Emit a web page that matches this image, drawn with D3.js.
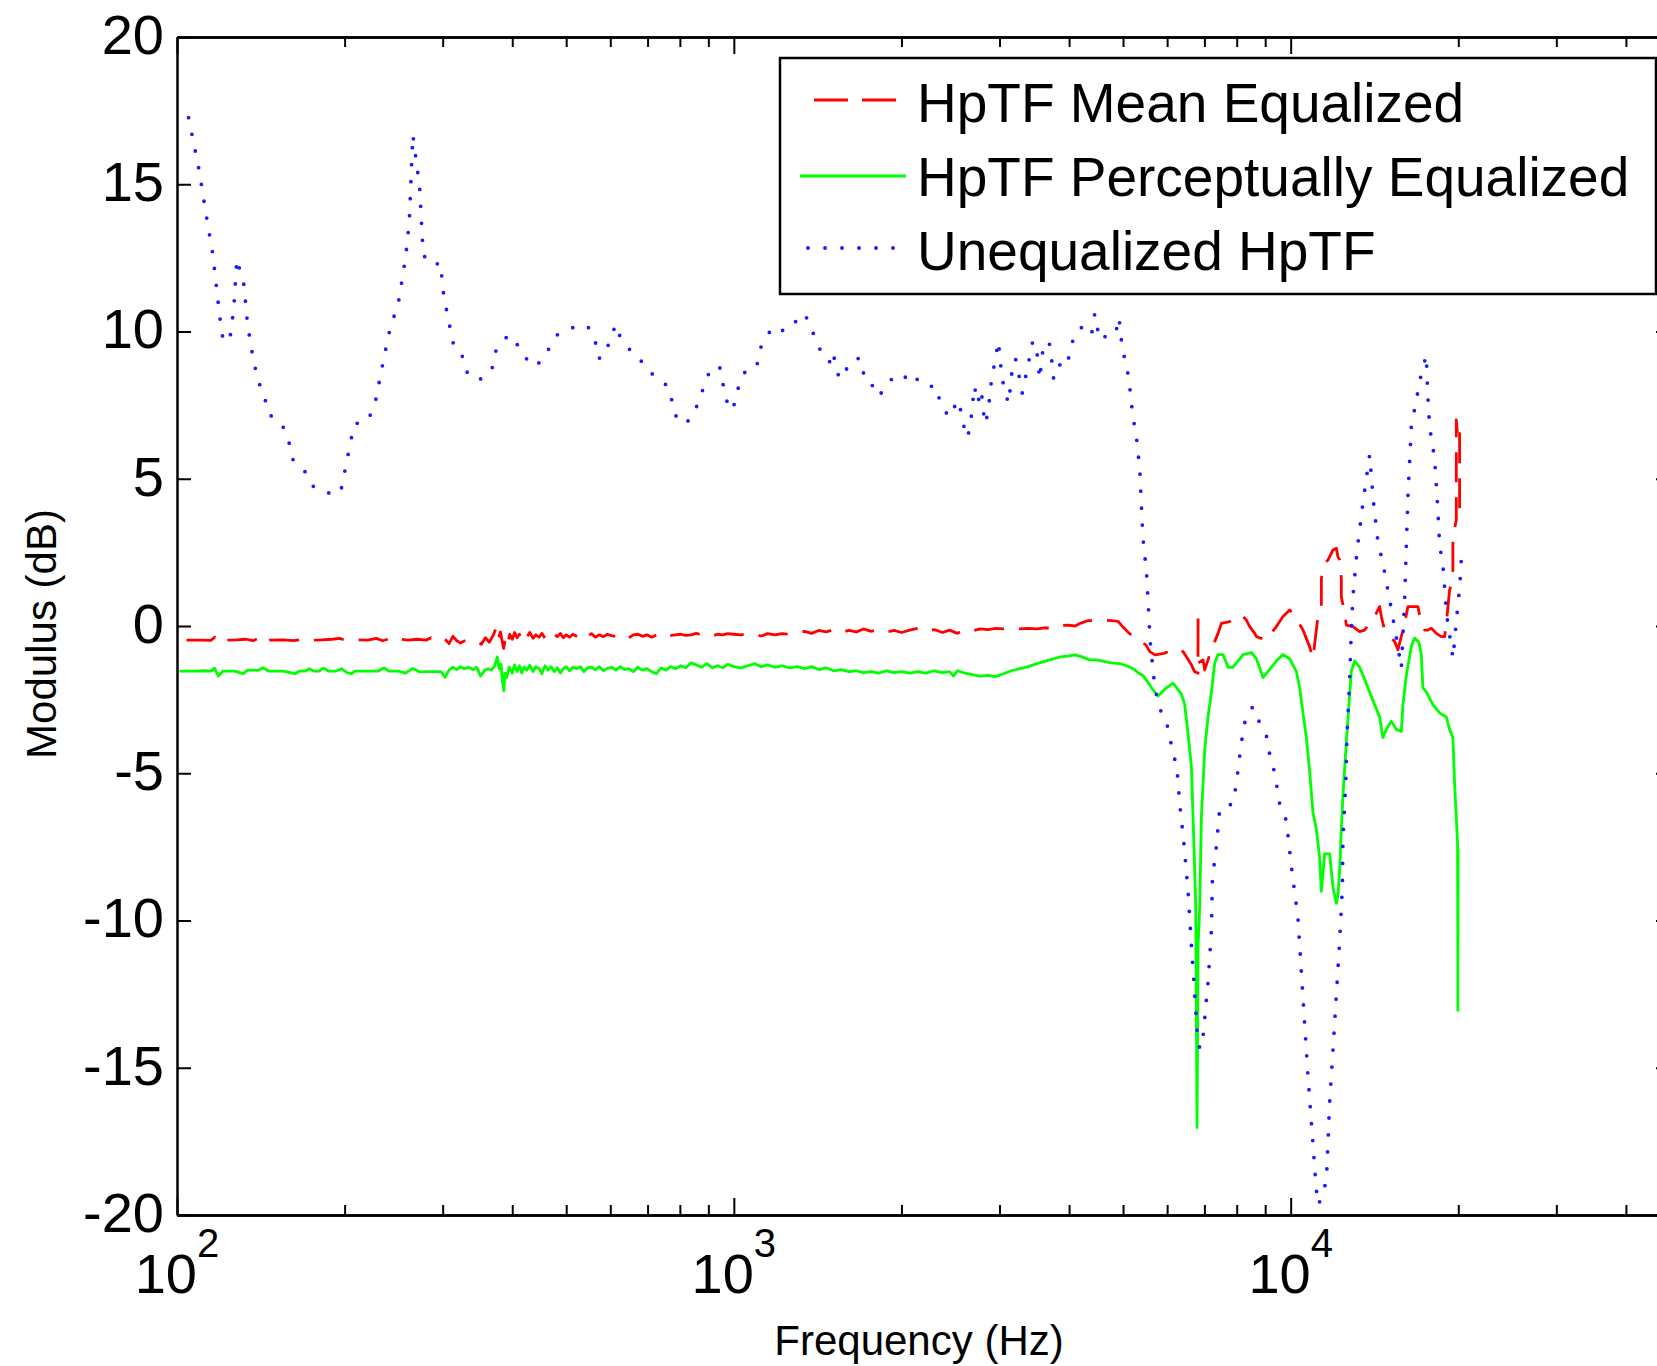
<!DOCTYPE html>
<html><head><meta charset="utf-8">
<script src="https://cdn.jsdelivr.net/npm/d3@7"></script>
<style>
html,body{margin:0;padding:0;background:#fff;}
svg{display:block;}
text{font-family:"Liberation Sans", Arial, Helvetica, sans-serif; fill:#000;}
</style></head><body>
<svg id="chart" width="1657" height="1366"></svg>
<script>
// ---------------- DATA ----------------
const seriesNames = ["HpTF Mean Equalized", "HpTF Perceptually Equalized", "Unequalized HpTF"];
const xDomain = [100, 48000];
const yDomain = [-20, 20];
const yTicks = [-20, -15, -10, -5, 0, 5, 10, 15, 20];
const xMajorTicks = [100, 1000, 10000];
const xMajorExp = ["2", "3", "4"];
const xMinorTicks = [200,300,400,500,600,700,800,900,2000,3000,4000,5000,6000,7000,8000,9000,20000,30000,40000];
const xLabel = "Frequency (Hz)";
const yLabel = "Modulus (dB)";

// HpTF Mean Equalized (red, dashed)
const meanFreq = [
104,110,115,117,119,122,128,133,137,140,
143,147,155,162,168,175,182,190,196,200,
210,220,228,234,240,246,252,260,270,280,
286,292,298,303,308,313,318,323,330,345,
352,358,364,370,375,378,381,384,386,389,
392,396,400,404,408,412,416,420,425,430,
436,441,447,452,458,464,470,476,482,488,
494,500,507,514,522,530,538,546,555,564,
573,583,593,603,614,625,636,648,660,672,
685,698,712,726,740,755,770,786,803,820,
838,856,875,895,915,935,955,975,1000,1030,
1060,1090,1120,1150,1185,1220,1260,1300,1340,1380,
1420,1465,1510,1560,1610,1660,1710,1765,1820,1880,
1940,2000,2070,2140,2210,2290,2370,2440,2520,2600,
2680,2770,2860,2950,3050,3150,3260,3380,3500,3620,
3740,3860,3980,4100,4200,4320,4450,4600,4760,4900,
4990,5130,5342,5501,5583,5709,5923,6192,6407,6634,
6720,6818,6818,6818,6960,7009,7105,7206,7305,7405,
7510,7772,7990,8157,8327,8442,8618,8679,9045,9170,
9426,9687,9959,10095,10306,10522,10815,10965,11194,11353,
11353,11509,11667,11910,12079,12159,12245,12331,12331,12501,
12589,12937,13301,13579,13861,14151,14447,14549,14749,15057,
15371,15582,16020,16240,16925,17164,17400,17639,17888,18262,
18643,18899,19032,19294,19430,19559,19559,19836,19836,19968,
20109,20109];
const meanDB = [
-0.48,-0.48,-0.49,-0.38,-0.56,-0.48,-0.47,-0.45,-0.50,-0.42,
-0.58,-0.48,-0.47,-0.50,-0.45,-0.48,-0.47,-0.45,-0.42,-0.48,
-0.47,-0.48,-0.42,-0.50,-0.44,-0.52,-0.45,-0.48,-0.45,-0.48,
-0.40,-0.48,-0.52,-0.45,-0.60,-0.35,-0.50,-0.58,-0.48,-0.50,
-0.62,-0.40,-0.55,-0.30,-0.02,-0.40,-0.20,-0.55,-0.76,-0.40,
-0.62,-0.28,-0.45,-0.22,-0.40,-0.28,-0.48,-0.30,-0.38,-0.22,
-0.42,-0.30,-0.38,-0.25,-0.42,-0.30,-0.40,-0.28,-0.36,-0.25,
-0.40,-0.30,-0.38,-0.28,-0.35,-0.42,-0.28,-0.34,-0.26,-0.38,
-0.30,-0.36,-0.28,-0.33,-0.36,-0.28,-0.32,-0.40,-0.30,-0.28,
-0.35,-0.30,-0.38,-0.30,-0.34,-0.26,-0.32,-0.30,-0.28,-0.32,
-0.30,-0.25,-0.30,-0.28,-0.34,-0.28,-0.30,-0.26,-0.28,-0.30,
-0.25,-0.28,-0.34,-0.26,-0.30,-0.26,-0.28,-0.22,-0.18,-0.25,
-0.15,-0.20,-0.12,-0.22,-0.15,-0.20,-0.10,-0.18,-0.12,-0.20,
-0.15,-0.22,-0.14,-0.08,-0.18,-0.12,-0.22,-0.14,-0.25,-0.12,
-0.16,-0.10,-0.12,-0.08,-0.10,-0.07,-0.10,-0.08,-0.10,-0.06,
-0.08,0.02,0.03,0.00,0.10,0.18,0.18,0.20,0.18,0.16,
-0.02,-0.25,-0.48,-0.65,-0.87,-0.98,-0.93,-0.76,-0.87,-1.32,
-1.55,-1.60,0.37,-1.26,-1.15,-1.49,-1.15,-0.81,-0.53,-0.25,
0.09,0.15,0.32,0.37,0.20,-0.02,-0.25,-0.36,-0.48,-0.31,
-0.02,0.32,0.54,0.43,0.15,-0.14,-0.70,-1.10,0.32,0.66,
1.62,2.13,2.24,2.58,2.64,2.35,2.24,1.62,0.99,0.43,
0.03,-0.02,-0.19,-0.14,0.09,0.32,0.66,0.32,-0.14,-0.36,
-0.53,-0.81,0.09,0.66,0.66,0.09,-0.14,-0.14,-0.08,-0.25,
-0.36,-0.36,0.09,1.22,1.45,1.90,3.03,3.60,7.00,6.30,
6.54,3.71];

// HpTF Perceptually Equalized (green, solid)
const percFreq = [
101,108,112,115,116.8,118.6,121,127,131.5,134,
140,142.6,146,155,162.9,166,170,172.8,176,180,
183.3,187,193,197.4,202,205.5,209,220,230,235.6,
240,250,257.4,265,273,282,290,298,302.8,308,
313,318,323,328,334,340,345,351,357,362,
367,372,376,379,382,384,386.3,388,391,395,
400,404,408,412,416,420,425,430,436,441,
447,452,458,464,470,476,482,488,494,500,
507,514,522,530,538,546,555,564,573,583,
593,603,614,625,636,648,660,672,685,698,
712,726,740,755,770,786,803,820,838,856,
875,895,915,935,955,975,1000,1030,1060,1090,
1120,1150,1185,1220,1260,1300,1340,1380,1420,1465,
1510,1560,1610,1660,1710,1765,1820,1880,1940,2000,
2070,2140,2210,2290,2370,2440,2480,2520,2600,2680,
2770,2860,2950,3050,3150,3260,3380,3500,3620,3740,
3860,3980,4100,4220,4350,4480,4620,4760,4930,5080,
5211,5342,5431,5583,5660,5778,5983,6148,6365,6452,
6541,6634,6678,6753,6790,6818,6852,6866,6914,7009,
7105,7206,7305,7405,7560,7718,7879,8043,8211,8501,
8679,8919,9170,9426,9687,9959,10238,10379,10522,10671,
10815,10965,11120,11273,11353,11509,11749,11910,12079,12159,
12245,12331,12413,12589,12725,12852,13029,13301,13579,13861,
14151,14447,14645,14853,15163,15480,15803,15908,16133,16469,
16695,16995,17164,17278,17522,18007,18512,19032,19294,19559,
19697,19940,19968,19990,19968,19968];
const percDB = [
-1.53,-1.53,-1.52,-1.53,-1.43,-1.70,-1.53,-1.53,-1.62,-1.50,
-1.50,-1.42,-1.53,-1.53,-1.62,-1.53,-1.53,-1.45,-1.53,-1.53,
-1.43,-1.53,-1.53,-1.45,-1.58,-1.62,-1.53,-1.53,-1.53,-1.42,
-1.53,-1.53,-1.60,-1.44,-1.56,-1.55,-1.55,-1.55,-1.74,-1.50,
-1.40,-1.48,-1.38,-1.45,-1.40,-1.48,-1.40,-1.70,-1.50,-1.45,
-1.50,-1.35,-1.05,-1.45,-1.30,-1.85,-2.20,-1.60,-1.75,-1.40,
-1.60,-1.32,-1.55,-1.35,-1.60,-1.40,-1.50,-1.33,-1.55,-1.38,
-1.45,-1.62,-1.35,-1.50,-1.38,-1.55,-1.42,-1.60,-1.45,-1.38,
-1.52,-1.40,-1.45,-1.38,-1.55,-1.42,-1.40,-1.48,-1.38,-1.52,
-1.44,-1.40,-1.50,-1.38,-1.48,-1.45,-1.55,-1.40,-1.50,-1.45,
-1.55,-1.62,-1.42,-1.50,-1.38,-1.45,-1.35,-1.42,-1.25,-1.32,
-1.40,-1.28,-1.42,-1.35,-1.42,-1.30,-1.38,-1.42,-1.35,-1.28,
-1.38,-1.32,-1.40,-1.35,-1.42,-1.38,-1.45,-1.38,-1.48,-1.42,
-1.52,-1.48,-1.55,-1.52,-1.58,-1.55,-1.60,-1.52,-1.58,-1.55,
-1.60,-1.55,-1.60,-1.52,-1.58,-1.55,-1.70,-1.52,-1.60,-1.65,
-1.70,-1.68,-1.72,-1.62,-1.52,-1.45,-1.38,-1.28,-1.20,-1.12,
-1.05,-1.02,-0.98,-1.05,-1.15,-1.15,-1.20,-1.25,-1.28,-1.35,
-1.45,-1.61,-1.68,-2.00,-2.17,-2.38,-2.10,-1.94,-2.31,-2.67,
-3.65,-4.78,-6.47,-9.43,-17.03,-10.83,-9.98,-9.43,-6.47,-4.21,
-3.09,-2.24,-1.26,-0.97,-0.97,-1.40,-1.40,-1.19,-0.97,-0.90,
-1.11,-1.75,-1.47,-1.19,-0.97,-1.11,-1.54,-2.10,-2.95,-3.79,
-4.92,-6.33,-6.89,-7.88,-9.01,-7.74,-7.74,-8.86,-9.42,-9.15,
-8.30,-6.89,-5.77,-3.93,-2.67,-1.54,-1.19,-1.40,-1.82,-2.24,
-2.67,-3.09,-3.79,-3.51,-3.23,-3.51,-3.58,-2.67,-1.68,-0.69,
-0.41,-0.55,-0.97,-2.10,-2.24,-2.67,-2.95,-3.09,-3.51,-3.79,
-5.34,-7.39,-11.68,-7.60,-11.50,-13.09];

// Unequalized HpTF (blue, dotted)
const uneqFreq = [
104.9,109.5,112.6,116.0,119.3,121.1,124.5,126.4,128.1,131.9,
133.6,135.6,139.5,143.6,145.8,154.3,158.8,161.0,170.2,175.4,
185.4,196.6,199.4,205.1,208.2,220.2,226.8,233.2,239.9,250.3,
257.4,261.3,265.2,268.8,272.7,276.8,288.9,297.1,301.5,310.1,
314.7,328.4,332.9,352.6,367.9,373.0,384.1,395.0,406.1,418.4,
430.3,449.2,461.9,482.2,495.9,532.1,548.2,563.8,571.3,588.3,
597.2,614.2,622.4,640.9,669.1,688.1,718.1,760.9,771.1,782.3,
804.6,828.9,852.6,865.0,889.7,903.0,942.2,955.2,969.1,996.7,
1010,1039,1054,1100,1115,1149,1166,1233,1270,1306,
1343,1363,1402,1442,1485,1507,1527,1550,1594,1642,
1688,1714,1763,1813,1839,1867,1920,1977,2007,2095,
2154,2215,2313,2347,2413,2449,2519,2556,2591,2630,
2665,2704,2742,2781,2823,2860,2903,2942,2986,3028,
3071,3116,3162,3205,3253,3296,3394,3442,3491,3543,
3597,3648,3699,3753,3809,3917,3976,4088,4204,4324,
4389,4448,4540,4710,4845,4917,4991,5064,5131,5208,
5278,5357,5428,5510,5593,5676,5759,5892,5983,6065,
6251,6321,6426,6542,6634,6725,6790,6866,6951,7105,
7206,7236,7357,7458,7667,7879,7990,8100,8211,8327,
8558,8798,9045,9170,9361,9556,9824,10029,10306,10452,
10596,10741,10965,11120,11227,11367,11590,11749,11910,12079,
12245,12382,12413,12552,12620,12761,12851,12936,13152,13482,
13861,14092,14345,14645,15100,15582,15803,16020,16240,16469,
16813,17164,17522,17617,17763,18134,18383,18512,18770,19043,
19569,19845,20117,20259];
const uneqDB = [
17.26,15.51,14.06,12.60,10.53,9.65,9.78,10.73,12.46,11.58,
10.42,9.54,8.38,7.79,7.21,6.86,6.27,5.68,5.22,4.75,
4.52,4.52,5.10,6.27,6.86,6.97,7.56,8.73,9.89,11.07,
12.53,13.72,16.68,15.82,14.92,12.59,12.23,12.35,11.18,10.02,
9.43,9.08,8.49,8.38,8.73,9.31,9.67,9.89,9.61,9.31,
8.84,8.95,9.31,9.89,10.02,10.24,10.13,9.67,9.08,9.19,
9.67,10.24,9.89,9.54,9.08,8.95,8.49,8.15,7.79,7.21,
6.86,6.97,7.32,7.67,8.26,8.61,8.84,8.26,7.67,7.32,
7.91,8.49,8.73,8.84,9.43,9.78,10.13,10.02,10.13,10.48,
10.60,10.25,9.78,9.19,8.96,9.31,8.73,8.38,8.73,9.08,
9.08,8.49,8.14,8.26,7.91,8.02,8.38,8.26,8.38,8.61,
8.26,8.14,8.14,7.56,7.21,7.10,7.67,7.32,6.75,6.39,
6.97,8.14,7.57,8.02,6.86,7.21,8.38,8.96,9.67,8.49,
7.91,7.56,8.73,9.08,8.49,7.91,9.08,9.67,9.54,8.38,
9.54,9.67,9.54,8.38,8.73,9.08,8.96,9.90,10.13,10.13,
9.90,10.60,9.71,9.90,9.90,10.48,9.31,8.96,8.26,7.10,
6.51,5.34,3.00,1.82,-0.51,-1.72,-2.50,-3.08,-3.23,-3.79,
-4.86,-6.04,-7.31,-9.00,-10.83,-12.53,-13.72,-14.36,-14.06,-12.11,
-10.34,-8.58,-7.46,-6.19,-6.11,-6.04,-5.34,-4.41,-3.58,-3.02,
-2.74,-3.29,-3.72,-4.36,-4.99,-6.04,-6.61,-8.16,-9.92,-11.75,
-13.51,-15.27,-17.59,-19.15,-19.66,-19.32,-18.87,-16.19,-14.43,-12.53,
-10.70,-8.93,-7.16,-5.41,-3.72,-1.89,-0.13,1.00,2.52,4.17,
5.81,4.17,2.86,2.13,0.77,-0.70,-1.44,0.88,4.39,6.77,
7.67,8.58,9.20,7.96,6.77,5.69,3.94,2.75,2.07,0.43,
-1.10,0.20,1.33,2.30];

// ---------------- LAYOUT ----------------
const M = {left: 177, top: 37, right: 1670, bottom: 1215};
const svg = d3.select("#chart");
const x = d3.scaleLog().domain(xDomain).range([M.left, M.right]);
const y = d3.scaleLinear().domain(yDomain).range([M.bottom, M.top]);

const zip = (f, v) => f.map((d, i) => ({f: d, v: v[i]}));
const line = d3.line().x(d => x(d.f)).y(d => y(d.v));

const series = [
  {name: seriesNames[0], data: zip(meanFreq, meanDB), color: "#ff0000", width: 2.8, dash: "30,15", cap: "butt"},
  {name: seriesNames[1], data: zip(percFreq, percDB), color: "#00ff00", width: 2.8, dash: null, cap: "butt"},
  {name: seriesNames[2], data: zip(uneqFreq, uneqDB), color: "#1a1aff", width: 3.8, dash: "0,17", cap: "round"}
];

const gLines = svg.append("g");
series.forEach(s => {
  gLines.append("path")
    .attr("d", line(s.data))
    .attr("fill", "none")
    .attr("stroke", s.color)
    .attr("stroke-width", s.width)
    .attr("stroke-linejoin", "round")
    .attr("stroke-linecap", s.cap)
    .attr("stroke-dasharray", s.dash);
});

// ---------------- AXES ----------------
function styleAxis(g) {
  g.selectAll("path.domain").attr("stroke", "#000").attr("stroke-width", 2.5);
  g.selectAll(".tick line").attr("stroke", "#000").attr("stroke-width", 2);
}
const gb1 = svg.append("g").attr("transform", `translate(0,${M.bottom})`)
  .call(d3.axisBottom(x).tickValues(xMinorTicks).tickSize(-10).tickSizeOuter(0).tickFormat(""));
const gb2 = svg.append("g").attr("transform", `translate(0,${M.bottom})`)
  .call(d3.axisBottom(x).tickValues(xMajorTicks).tickSize(-17).tickSizeOuter(0).tickFormat(""));
const gt1 = svg.append("g").attr("transform", `translate(0,${M.top})`)
  .call(d3.axisTop(x).tickValues(xMinorTicks).tickSize(-10).tickSizeOuter(0).tickFormat(""));
const gt2 = svg.append("g").attr("transform", `translate(0,${M.top})`)
  .call(d3.axisTop(x).tickValues(xMajorTicks).tickSize(-17).tickSizeOuter(0).tickFormat(""));
const gl = svg.append("g").attr("transform", `translate(${M.left},0)`)
  .call(d3.axisLeft(y).tickValues(yTicks).tickSize(-14).tickSizeOuter(0).tickPadding(13).tickFormat(d3.format("d")));
const gr = svg.append("g").attr("transform", `translate(${M.right},0)`)
  .call(d3.axisRight(y).tickValues(yTicks).tickSize(-14).tickSizeOuter(0).tickFormat(""));
[gb1, gb2, gt1, gt2, gl, gr].forEach(styleAxis);
gl.attr("font-family", null).attr("font-size", null);
gl.selectAll(".tick text")
  .attr("font-size", 56)
  .attr("dy", "0.29em")
  .text(d => (d < 0 ? "-" + Math.abs(d) : String(d)));

// x tick labels 10^n
const xl = svg.append("g").selectAll("text").data(xMajorTicks).join("text")
  .attr("x", d => x(d))
  .attr("y", 1293)
  .attr("text-anchor", "middle")
  .attr("font-size", 56);
xl.append("tspan").text("10");
xl.append("tspan").attr("dy", -36).attr("font-size", 40).text((d, i) => xMajorExp[i]);

// axis titles
svg.append("text").attr("x", 919).attr("y", 1355).attr("text-anchor", "middle")
  .attr("font-size", 42).text(xLabel);
svg.append("text").attr("transform", "translate(56,634) rotate(-90)").attr("text-anchor", "middle")
  .attr("font-size", 42).text(yLabel);

// ---------------- LEGEND ----------------
const lg = svg.append("g");
lg.append("rect").attr("x", 780).attr("y", 58).attr("width", 876).attr("height", 236)
  .attr("fill", "#fff").attr("stroke", "#000").attr("stroke-width", 2.5);
const legendRows = [
  {y: 122, ly: 100, s: series[0]},
  {y: 196, ly: 176, s: series[1]},
  {y: 270, ly: 248, s: series[2]}
];
legendRows.forEach(r => {
  lg.append("line").attr("x1", 800).attr("x2", 906).attr("y1", r.ly).attr("y2", r.ly)
    .attr("stroke", r.s.color).attr("stroke-width", r.s.width)
    .attr("stroke-linecap", r.s.cap)
    .attr("stroke-dasharray", r.s.dash === "30,15" ? "34,14" : r.s.dash)
    .attr("stroke-dashoffset", r.s.dash === "30,15" ? 34 : (r.s.dash ? -8 : 0));
  lg.append("text").attr("x", 917).attr("y", r.y).attr("font-size", 55).text(r.s.name);
});
</script>
</body></html>
